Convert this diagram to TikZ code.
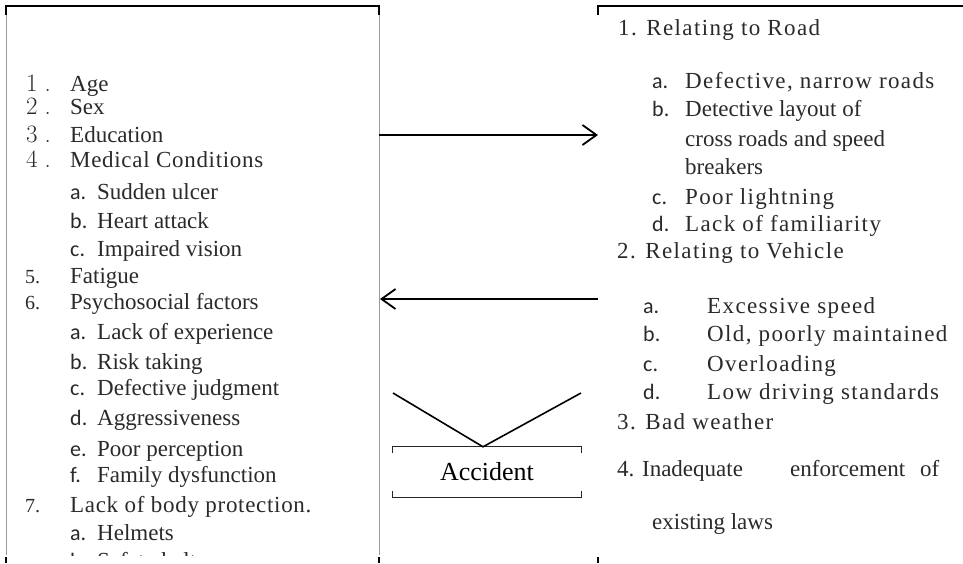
\documentclass[tikz,border=0pt]{standalone}
\usepackage{fontspec}
\usetikzlibrary{arrows.meta}
\newfontfamily\tnr{Liberation Serif}
\newfontfamily\tnrs[LetterSpace=6]{Liberation Serif}
\newfontfamily\tnrm[LetterSpace=3]{Liberation Serif}
\newfontfamily\labf{Carlito}
\definecolor{tc}{HTML}{2A2A2A}
\definecolor{gl}{HTML}{9A9A9A}
\tikzset{
  tx/.style={anchor=base west, inner sep=0pt, text=tc, font={\tnr\fontsize{23}{26}\selectfont}},
  txs/.style={anchor=base west, inner sep=0pt, text=tc, font={\tnrs\fontsize{23}{26}\selectfont}},
  txm/.style={anchor=base west, inner sep=0pt, text=tc, font={\tnrm\fontsize{23}{26}\selectfont}},
  lab/.style={anchor=base west, inner sep=0pt, text=tc, font={\labf\fontsize{22}{26}\selectfont}},
  num/.style={anchor=base west, inner sep=0pt, text=tc, font={\rmfamily\fontsize{25}{28}\selectfont}},
  numt/.style={anchor=base west, inner sep=0pt, text=tc, font={\tnr\fontsize{20}{24}\selectfont}},
  blk/.style={line width=1.6pt, black},
  side/.style={line width=1pt, gl},
  arr/.style={line width=1.8pt, -{Straight Barb[length=14pt,width=20pt]}},
  vline/.style={line width=1.6pt},
  bracket/.style={line width=1.2pt, black!85}
}
\newcommand\nm[1]{#1\hspace{7pt}.}
\begin{document}
\begin{tikzpicture}[x=1pt,y=-1pt]
\useasboundingbox (0,0) rectangle (963,563);
% box corners
\coordinate (ltl) at (6,6);
\coordinate (ltr) at (379,6);
\coordinate (lbl) at (6,563);
\coordinate (lbr) at (379,563);
\coordinate (rtl) at (598,6);
\coordinate (rtr) at (963,6);
\coordinate (rbl) at (598,563);
% left box
\draw[side] (ltl) -- ([yshift=8pt]lbl);
\draw[side] (ltr) -- ([yshift=8pt]lbr);
\draw[blk] ([yshift=-9pt]ltl) -- (ltl) -- (ltr) -- ([yshift=-9pt]ltr);
\draw[blk] ([yshift=6pt]lbl) -- (lbl);
\draw[blk] ([yshift=6pt]lbr) -- (lbr);
% right box
\draw[blk] ([yshift=-9pt]rtl) -- (rtl) -- (rtr);
\draw[blk] ([yshift=6pt]rbl) -- (rbl);

% left list
\node[num] (n1) at (26,91) {\nm{1}};   \node[tx] (t1) at (70,91) {Age};
\node[num] (n2) at (26,114) {\nm{2}};  \node[tx] (t2) at (70,114) {Sex};
\node[num] (n3) at (26,142) {\nm{3}};  \node[tx] (t3) at (70,142) {Education};
\node[num] (n4) at (26,167) {\nm{4}};  \node[txm] (t4) at (70,167) {Medical Conditions};
\node[lab] (s4a) at (70,199) {a.}; \node[tx] (t4a) at (97,199) {Sudden ulcer};
\node[lab] (s4b) at (70,228) {b.}; \node[tx] (t4b) at (97,228) {Heart attack};
\node[lab] (s4c) at (70,256) {c.}; \node[tx] (t4c) at (97,256) {Impaired vision};
\node[numt] (n5) at (25,283) {5.};   \node[tx] (t5) at (70,283) {Fatigue};
\node[numt] (n6) at (25,309) {6.};   \node[tx] (t6) at (70,309) {Psychosocial factors};
\node[lab] (s6a) at (70,339) {a.}; \node[tx] (t6a) at (97,339) {Lack of experience};
\node[lab] (s6b) at (70,369) {b.}; \node[tx] (t6b) at (97,369) {Risk taking};
\node[lab] (s6c) at (70,395) {c.}; \node[tx] (t6c) at (97,395) {Defective judgment};
\node[lab] (s6d) at (70,425) {d.}; \node[tx] (t6d) at (97,425) {Aggressiveness};
\node[lab] (s6e) at (70,456) {e.}; \node[tx] (t6e) at (97,456) {Poor perception};
\node[lab] (s6f) at (70,482) {f.}; \node[tx] (t6f) at (97,482) {Family dysfunction};
\node[numt] (n7) at (25,512) {7.};   \node[txm] (t7) at (70,512) {Lack of body protection.};
\node[lab] (s7a) at (70,540) {a.}; \node[tx] (t7a) at (97,540) {Helmets};
\begin{scope}
\clip (0,0) rectangle (963,555);
\node[lab] (s7b) at (70,568) {b.}; \node[tx] (t7b) at (97,568) {Safety belts};
\end{scope}

% right list
\node[txs] (r1) at (618,35) {1. Relating to Road};
\node[lab] (r1a) at (652,88) {a.};  \node[txs] (r1at) at (685,88) {Defective, narrow roads};
\node[lab] (r1b) at (652,116) {b.}; \node[tx] (r1bt) at (685,116) {Detective layout of};
\node[tx] (r1bt2) at (685,146) {cross roads and speed};
\node[tx] (r1bt3) at (685,174) {breakers};
\node[lab] (r1c) at (652,204) {c.}; \node[txs] (r1ct) at (685,204) {Poor lightning};
\node[lab] (r1d) at (652,231) {d.}; \node[txs] (r1dt) at (685,231) {Lack of familiarity};
\node[txs] (r2) at (617,258) {2. Relating to Vehicle};
\node[lab] (r2a) at (643,313) {a.}; \node[txs] (r2at) at (707,313) {Excessive speed};
\node[lab] (r2b) at (643,341) {b.}; \node[txs] (r2bt) at (707,341) {Old, poorly maintained};
\node[lab] (r2c) at (643,371) {c.}; \node[txs] (r2ct) at (707,371) {Overloading};
\node[lab] (r2d) at (643,399) {d.}; \node[txs] (r2dt) at (707,399) {Low driving standards};
\node[txs] (r3) at (617,429) {3. Bad weather};
\node[tx] (r4) at (617,476) {4. Inadequate};
\node[tx] (r4b) at (790,476) {enforcement};
\node[tx] (r4c) at (920,476) {of};
\node[tx] (r4d) at (652,529) {existing laws};

% arrows
\coordinate (a1s) at (379,135);
\coordinate (a1e) at (598,135);
\coordinate (a2s) at (598,299);
\coordinate (a2e) at (380,299);
\draw[arr] (a1s) -- (a1e);
\draw[arr] (a2s) -- (a2e);

% accident
\node[minimum width=188pt, minimum height=50pt, inner sep=0pt, text=black, font={\tnr\fontsize{26}{30}\selectfont}] (acc) at (487,472) {Accident};
\draw[bracket] ([yshift=-6pt]acc.north west) -- (acc.north west) -- (acc.north east) -- ([yshift=-6pt]acc.north east);
\draw[bracket] ([yshift=6pt]acc.south west) -- (acc.south west) -- (acc.south east) -- ([yshift=6pt]acc.south east);
\coordinate (v1) at (393,393);
\coordinate (v2) at (581,393);
\coordinate (vm) at ([xshift=-4pt]acc.north);
\draw[vline] (v1) -- (vm) -- (v2);
\end{tikzpicture}
\end{document}
